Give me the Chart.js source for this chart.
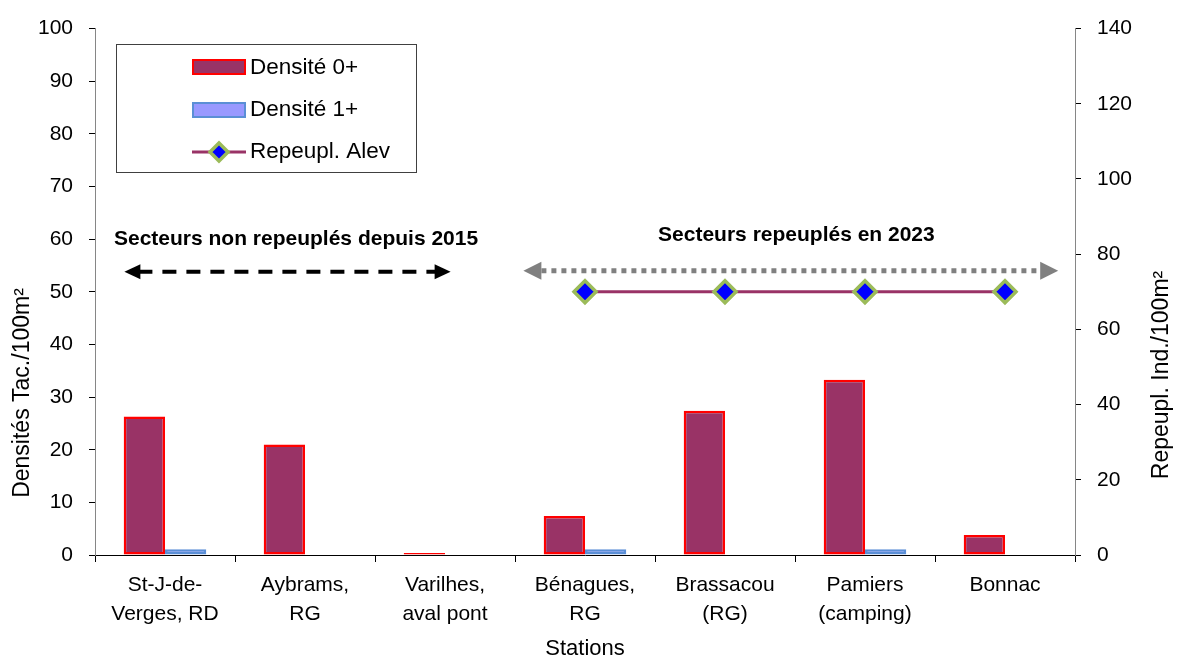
<!DOCTYPE html>
<html>
<head>
<meta charset="utf-8">
<style>
  html, body { margin: 0; padding: 0; background: #fff; }
  #wrap { width: 1177px; height: 660px; }
</style>
<script src="https://cdn.jsdelivr.net/npm/chart.js"></script>
</head>
<body>
<div id="wrap"><canvas id="c" width="1177" height="660"></canvas></div>
<script>
// ---- data ----
const categories = [
  ["St-J-de-", "Verges, RD"],
  ["Aybrams,", "RG"],
  ["Varilhes,", "aval pont"],
  ["Bénagues,", "RG"],
  ["Brassacou", "(RG)"],
  ["Pamiers", "(camping)"],
  ["Bonnac"]
];
const densite0 = [26.3, 21.0, 0.4, 7.4, 27.4, 33.3, 3.8];
const densite1 = [1.1, null, null, 1.1, null, 1.1, null];
const repeupl = [null, null, null, 70, 70, 70, 70];
const leftTicks = [0, 100, 10];   // min, max, step
const rightTicks = [0, 140, 20];  // min, max, step
const seriesNames = ["Densité 0+", "Densité 1+", "Repeupl. Alev"];
const leftTitle = "Densités Tac./100m²";
const rightTitle = "Repeupl. Ind./100m²";
const xTitle = "Stations";
const noteNon = "Secteurs non repeuplés depuis 2015";
const noteRep = "Secteurs repeuplés en 2023";

const FONT = "'Liberation Sans', Arial, sans-serif";

const c0 = { fill: '#993366', border: '#FF0000' };
const c1 = { fill: '#9999FF', border: '#5B8FD6' };
const cl = { line: '#993366', pFill: '#0000FF', pBorder: '#9BBB59' };

function arrowHead(ctx, x, y, dir, len, half, color) {
  ctx.save();
  ctx.fillStyle = color;
  ctx.beginPath();
  ctx.moveTo(x, y);
  ctx.lineTo(x - dir * len, y - half);
  ctx.lineTo(x - dir * len, y + half);
  ctx.closePath();
  ctx.fill();
  ctx.restore();
}

const overlay = {
  id: 'overlay',
  afterDatasetsDraw(chart) {
    const ctx = chart.ctx;
    const xs = chart.scales.x, ys = chart.scales.y;
    ctx.save();
    // annotation texts
    ctx.fillStyle = '#000';
    ctx.font = "bold 21px " + FONT;
    ctx.textAlign = 'center';
    ctx.textBaseline = 'middle';
    ctx.fillText(noteNon, xs.getPixelForValue(0.936), ys.getPixelForValue(59.9));
    ctx.fillText(noteRep, xs.getPixelForValue(4.51), ys.getPixelForValue(60.7));

    // black dashed double arrow
    let xa = xs.getPixelForValue(-0.29), xb = xs.getPixelForValue(2.04), ya = ys.getPixelForValue(53.8);
    ctx.strokeStyle = '#000';
    ctx.lineWidth = 4;
    ctx.setLineDash([14, 10]);
    ctx.beginPath();
    ctx.moveTo(xa + 14, ya); ctx.lineTo(xb - 14, ya);
    ctx.stroke();
    ctx.setLineDash([]);
    arrowHead(ctx, xa, ya, -1, 16, 7.5, '#000');
    arrowHead(ctx, xb, ya, 1, 16, 7.5, '#000');

    // grey dotted double arrow
    xa = xs.getPixelForValue(2.56); xb = xs.getPixelForValue(6.38); ya = ys.getPixelForValue(54.0);
    ctx.strokeStyle = '#808080';
    ctx.lineWidth = 5;
    ctx.setLineDash([5, 5]);
    ctx.beginPath();
    ctx.moveTo(xa + 18, ya); ctx.lineTo(xb - 16, ya);
    ctx.stroke();
    ctx.setLineDash([]);
    arrowHead(ctx, xa, ya, -1, 18, 9, '#808080');
    arrowHead(ctx, xb, ya, 1, 18, 9, '#808080');
    ctx.restore();
  },
  afterDraw(chart) {
    const ctx = chart.ctx;
    ctx.save();
    // axis titles
    ctx.fillStyle = '#000';
    ctx.font = "22px " + FONT;
    ctx.textAlign = 'center';
    ctx.textBaseline = 'middle';
    ctx.fillText(xTitle, (chart.chartArea.left + chart.chartArea.right) / 2, 649);
    ctx.font = "23px " + FONT;
    ctx.save();
    ctx.translate(23, 393); ctx.rotate(-Math.PI / 2);
    ctx.fillText(leftTitle, 0, 0);
    ctx.restore();
    ctx.save();
    ctx.translate(1162, 375); ctx.rotate(-Math.PI / 2);
    ctx.fillText(rightTitle, 0, 0);
    ctx.restore();

    // legend box
    ctx.strokeStyle = '#404040';
    ctx.lineWidth = 1;
    ctx.strokeRect(116.5, 44.5, 300, 128);
    // item 1
    ctx.fillStyle = c0.fill; ctx.fillRect(193, 60, 52, 14);
    ctx.strokeStyle = c0.border; ctx.lineWidth = 2; ctx.strokeRect(193, 60, 52, 14);
    // item 2
    ctx.fillStyle = c1.fill; ctx.fillRect(193, 103, 52, 14);
    ctx.strokeStyle = c1.border; ctx.lineWidth = 2; ctx.strokeRect(193, 103, 52, 14);
    // item 3
    ctx.strokeStyle = cl.line; ctx.lineWidth = 3;
    ctx.beginPath(); ctx.moveTo(192, 152); ctx.lineTo(246, 152); ctx.stroke();
    ctx.beginPath();
    ctx.moveTo(219, 143); ctx.lineTo(228, 152); ctx.lineTo(219, 161); ctx.lineTo(210, 152); ctx.closePath();
    ctx.fillStyle = cl.pFill; ctx.fill();
    ctx.strokeStyle = cl.pBorder; ctx.lineWidth = 3.5; ctx.stroke();
    ctx.fillStyle = '#000';
    ctx.font = "22.5px " + FONT;
    ctx.textAlign = 'left';
    ctx.fillText(seriesNames[0], 250, 68);
    ctx.fillText(seriesNames[1], 250, 110);
    ctx.fillText(seriesNames[2], 250, 152);
    ctx.restore();
  }
};

const tickFont = { family: FONT, size: 21, lineHeight: 1.38 };

new Chart(document.getElementById('c'), {
  type: 'bar',
  data: {
    labels: categories,
    datasets: [
      {
        type: 'line', label: seriesNames[2], data: repeupl, yAxisID: 'y1', order: 0,
        borderColor: cl.line, borderWidth: 3,
        pointStyle: 'rectRot', pointRadius: 11, pointBackgroundColor: cl.pFill,
        pointBorderColor: cl.pBorder, pointBorderWidth: 3.5, spanGaps: false
      },
      {
        label: seriesNames[0], data: densite0, yAxisID: 'y', order: 1,
        backgroundColor: c0.fill, borderColor: c0.border, borderWidth: 2.5, borderSkipped: false,
        categoryPercentage: 0.59, barPercentage: 1.0
      },
      {
        label: seriesNames[1], data: densite1, yAxisID: 'y', order: 1,
        backgroundColor: c1.fill, borderColor: c1.border, borderWidth: 2.5, borderSkipped: false,
        categoryPercentage: 0.59, barPercentage: 1.0
      }
    ]
  },
  options: {
    responsive: false,
    animation: false,
    layout: { padding: { top: 24, left: 0, right: 0, bottom: 0 } },
    plugins: { legend: { display: false }, tooltip: { enabled: false } },
    scales: {
      x: {
        offset: true,
        grid: { offset: true, drawOnChartArea: false, drawTicks: true, tickLength: 7, color: '#000' },
        border: { color: '#000', width: 1 },
        ticks: { font: tickFont, color: '#000', padding: 9, maxRotation: 0, autoSkip: false },
        afterFit(s) { s.height = 105; }
      },
      y: {
        position: 'left',
        min: leftTicks[0], max: leftTicks[1],
        grid: { drawOnChartArea: false, tickLength: 6, color: '#000' },
        border: { color: '#868686', width: 1 },
        ticks: { stepSize: leftTicks[2], font: { family: FONT, size: 21 }, color: '#000', padding: 16 },
        afterFit(s) { s.width = 95; }
      },
      y1: {
        position: 'right',
        min: rightTicks[0], max: rightTicks[1],
        grid: { drawOnChartArea: false, tickLength: 6, color: '#000' },
        border: { color: '#868686', width: 1 },
        ticks: { stepSize: rightTicks[2], font: { family: FONT, size: 21 }, color: '#000', padding: 16 },
        afterFit(s) { s.width = 102; }
      }
    }
  },
  plugins: [overlay]
});
</script>
</body>
</html>
